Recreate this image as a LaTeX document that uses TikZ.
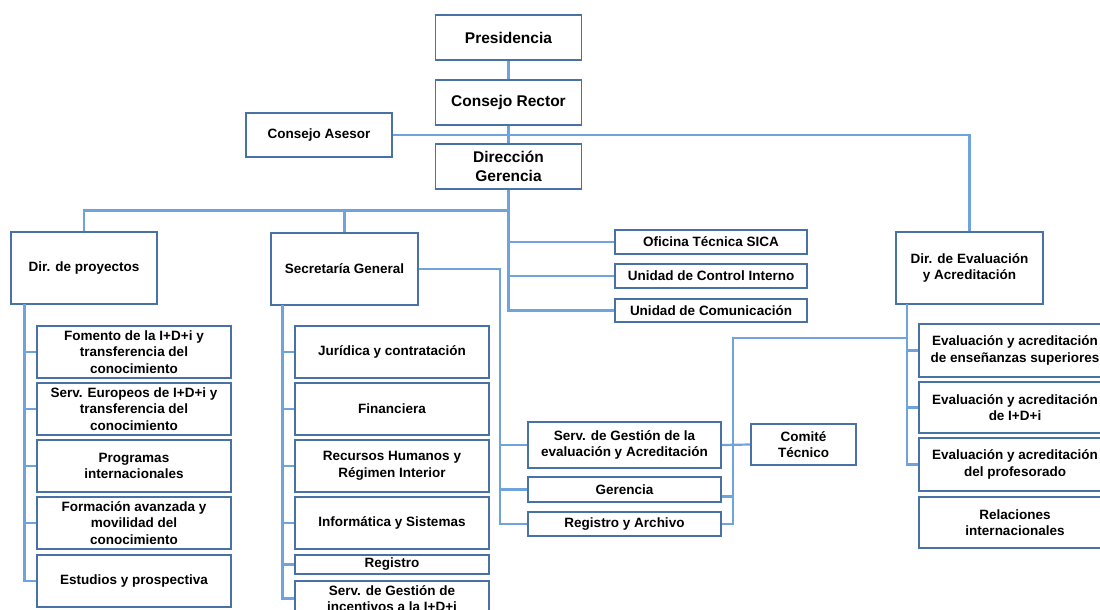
\documentclass[tikz,border=0pt]{standalone}
\usepackage{fontspec}
\setmainfont{Liberation Sans}
\usetikzlibrary{calc}
\definecolor{bordc}{RGB}{72,114,166}
\definecolor{linec}{RGB}{111,163,220}
\tikzset{
  box/.style={draw=bordc, line width=1.6pt, fill=white, inner sep=0pt, align=center,
    font=\fontsize{13.5}{16.5}\selectfont\bfseries},
  bigbox/.style={box, font=\fontsize{15.5}{19.3}\selectfont\bfseries},
  conn/.style={draw=linec, line width=2.2pt},
}
\begin{document}
\begin{tikzpicture}[x=1pt,y=-1pt]
\useasboundingbox (0,0) rectangle (1100,610);
\clip (0,0) rectangle (1100,610);
\fill[white] (0,0) rectangle (1100,610);

% top
\node[bigbox, minimum width=146, minimum height=45] (pres) at (508.5,37.5) {Presidencia};
\node[bigbox, minimum width=146, minimum height=45] (rector) at (508.5,102.5) {Consejo Rector};
\node[box, minimum width=146, minimum height=44] (asesor) at (319,135) {Consejo Asesor};
\node[bigbox, minimum width=146, minimum height=45] (dirg) at (508.5,166.5) {Dirección\\Gerencia};

% level 2
\node[box, minimum width=146, minimum height=72] (dirp) at (84,268) {Dir. de proyectos};
\node[box, minimum width=147, minimum height=72] (secg) at (344.5,269) {Secretaría General};
\node[box, minimum width=192, minimum height=24] (sica) at (711,242) {Oficina Técnica SICA};
\node[box, minimum width=192, minimum height=24] (ctrl) at (711,276) {Unidad de Control Interno};
\node[box, minimum width=192, minimum height=23] (comu) at (711,310.5) {Unidad de Comunicación};
\node[box, minimum width=147, minimum height=72] (dire) at (969.5,268) {Dir. de Evaluación\\y Acreditación};

% Dir. de proyectos children
\node[box, minimum width=194, minimum height=52] (fomento) at (134,352) {Fomento de la I+D+i y\\transferencia del\\conocimiento};
\node[box, minimum width=194, minimum height=52] (europeos) at (134,409) {Serv. Europeos de I+D+i y\\transferencia del\\conocimiento};
\node[box, minimum width=194, minimum height=52] (programas) at (134,466) {Programas\\internacionales};
\node[box, minimum width=194, minimum height=52] (formacion) at (134,523) {Formación avanzada y\\movilidad del\\conocimiento};
\node[box, minimum width=194, minimum height=52] (estudios) at (134,581) {Estudios y prospectiva};

% Secretaria children
\node[box, minimum width=194, minimum height=52] (juridica) at (392,352) {Jurídica y contratación};
\node[box, minimum width=194, minimum height=52] (financiera) at (392,409) {Financiera};
\node[box, minimum width=194, minimum height=52] (rrhh) at (392,466) {Recursos Humanos y\\Régimen Interior};
\node[box, minimum width=194, minimum height=52] (informatica) at (392,523) {Informática y Sistemas};
\node[box, minimum width=194, minimum height=19] (registro) at (392,564.5) {Registro};
\node[box, minimum width=194, minimum height=35] (incentivos) at (392,598.5) {Serv. de Gestión de\\incentivos a la I+D+i};

% middle group
\node[box, minimum width=193, minimum height=46] (sga) at (624.5,445) {Serv. de Gestión de la\\evaluación y Acreditación};
\node[box, minimum width=193, minimum height=25] (gerencia) at (624.5,489.5) {Gerencia};
\node[box, minimum width=193, minimum height=24] (archivo) at (624.5,524) {Registro y Archivo};
\node[box, minimum width=105, minimum height=41] (comite) at (803.5,444.5) {Comité\\Técnico};

% Evaluacion children
\node[box, minimum width=192, minimum height=53] (ev1) at (1015,350.5) {Evaluación y acreditación\\de enseñanzas superiores};
\node[box, minimum width=192, minimum height=51] (ev2) at (1015,407.5) {Evaluación y acreditación\\de I+D+i};
\node[box, minimum width=192, minimum height=53] (ev3) at (1015,464.5) {Evaluación y acreditación\\del profesorado};
\node[box, minimum width=192, minimum height=51] (ev4) at (1015,522.5) {Relaciones\\internacionales};

% coordinates
\coordinate (bus) at (508.5,210.5);
\coordinate (dpx) at (24.5,304);
\coordinate (spx) at (282.5,305);
\coordinate (sgx) at (500,269);
\coordinate (rb) at (733,338);
\coordinate (dex) at (907,304);
\coordinate (gerj) at ($(gerencia.east)+(0,7)$);

% connectors
\begin{scope}[conn]
\draw (pres.south) -- (rector.north);
\draw (rector.south) -- (dirg.north);
\draw (asesor.east) -| (dire.north);
\draw (dirg.south) -- (bus) -| (dirp.north);
\draw (bus) -| (secg.north);
\draw (dirg.south) |- (sica.west);
\draw (dirg.south) |- (ctrl.west);
\draw (dirg.south) |- (comu.west);
\foreach \c in {fomento,europeos,programas,formacion,estudios}
  \draw (dpx) |- (\c.west);
\foreach \c in {juridica,financiera,rrhh,informatica,registro,incentivos}
  \draw (spx) |- (\c.west);
\draw (secg.east) -- (sgx) |- (sga.west);
\draw (sgx) |- (gerencia.west);
\draw (sgx) |- (archivo.west);
\foreach \c in {ev1,ev2,ev3}
  \draw (dex) |- (\c.west);
\draw (dex |- rb) -- (rb) |- (archivo.east);
\draw (rb) |- (sga.east);
\draw (rb) |- (gerj);
\draw (sga.east) -- (comite.west);
\end{scope}
\end{tikzpicture}
\end{document}
